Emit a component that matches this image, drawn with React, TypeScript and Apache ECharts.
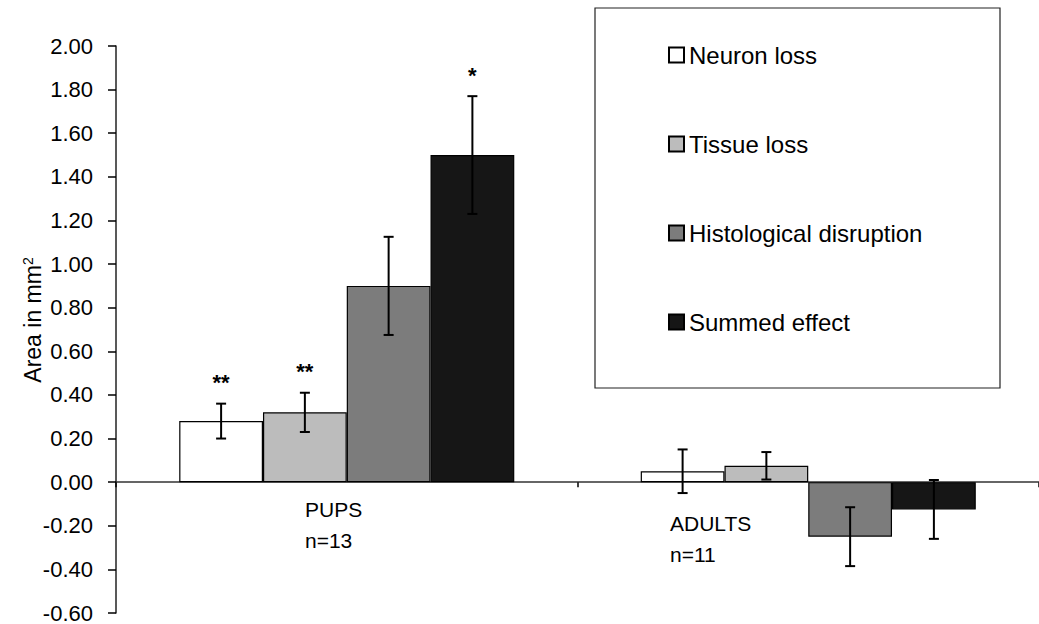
import React, { useEffect, useRef } from "react";
import * as echarts from "echarts";

const categories = ["PUPS", "ADULTS"];
const groupNotes = ["n=13", "n=11"];
const seriesNames = ["Neuron loss", "Tissue loss", "Histological disruption", "Summed effect"];
const neuronLoss = [0.28, 0.05];
const neuronErr = [0.08, 0.1];
const tissueLoss = [0.32, 0.075];
const tissueErr = [0.09, 0.063];
const histoDisruption = [0.9, -0.25];
const histoErr = [0.225, 0.135];
const summedEffect = [1.5, -0.125];
const summedErr = [0.27, 0.135];
const significance = [
  ["**", ""],
  ["**", ""],
  ["", ""],
  ["*", ""],
];
const yTicks = { min: -0.6, max: 2.0, interval: 0.2 };

const values = [neuronLoss, tissueLoss, histoDisruption, summedEffect];
const errors = [neuronErr, tissueErr, histoErr, summedErr];
const fills = ["#ffffff", "#bcbcbc", "#7c7c7c", "#161616"];
const CAT_GAP = 0.274;

export default function App() {
  const ref = useRef<HTMLDivElement>(null);
  useEffect(() => {
    if (!ref.current) return;
    const chart = echarts.init(ref.current, null, { renderer: "svg" });
    const font = "Arial, 'Liberation Sans', sans-serif";

    const errData: number[][] = [];
    const errSig: string[] = [];
    values.forEach((vals, si) => {
      vals.forEach((v, ci) => {
        errData.push([ci, v, errors[si][ci], si]);
        errSig.push(significance[si][ci]);
      });
    });

    const barSeries = values.map((vals, si) => ({
      name: seriesNames[si],
      type: "bar",
      data: vals,
      barGap: "0%",
      barCategoryGap: CAT_GAP * 100 + "%",
      itemStyle: { color: fills[si], borderColor: "#000", borderWidth: 1.2 },
    }));

    chart.setOption({
      animation: false,
      grid: { left: 116, right: -5, top: 46, bottom: 10, containLabel: false },
      legend: {
        orient: "vertical",
        left: 663,
        top: 38,
        icon: "rect",
        itemWidth: 15,
        itemHeight: 15,
        itemGap: 65,
        data: seriesNames,
        textStyle: { fontFamily: font, fontSize: 24, color: "#000", padding: [0, 0, 0, 0] },
      },
      xAxis: {
        type: "category",
        data: categories,
        axisLabel: { show: false },
        axisLine: { onZero: true, lineStyle: { color: "#333", width: 1.5 } },
        axisTick: { show: true, length: 5, lineStyle: { color: "#000", width: 1.5 } },
        splitLine: { show: false },
      },
      yAxis: {
        type: "value",
        min: yTicks.min,
        max: yTicks.max,
        interval: yTicks.interval,
        axisLine: { show: true, onZero: false, lineStyle: { color: "#222", width: 1.5 } },
        axisTick: { show: true, length: 8, lineStyle: { color: "#000", width: 1.5 } },
        axisLabel: {
          fontFamily: font,
          fontSize: 22,
          color: "#000",
          margin: 23,
          formatter: (v: number) => v.toFixed(2),
        },
        splitLine: { show: false },
      },
      series: [
        ...barSeries,
        {
          type: "custom",
          name: "errors",
          data: errData,
          z: 10,
          renderItem: (params: any, api: any) => {
            const ci = api.value(0);
            const v = api.value(1);
            const e = api.value(2);
            const si = api.value(3);
            const band = api.size([1, 0])[0];
            const bw = (band * (1 - CAT_GAP)) / 4;
            const cx = api.coord([ci, 0])[0] + (si - 1.5) * bw;
            const yTop = api.coord([ci, v + e])[1];
            const yBot = api.coord([ci, v - e])[1];
            const cap = 5;
            const st = { stroke: "#000", lineWidth: 2 };
            const children: any[] = [
              { type: "line", shape: { x1: cx, y1: yTop, x2: cx, y2: yBot }, style: st },
              { type: "line", shape: { x1: cx - cap, y1: yTop, x2: cx + cap, y2: yTop }, style: st },
              { type: "line", shape: { x1: cx - cap, y1: yBot, x2: cx + cap, y2: yBot }, style: st },
            ];
            const sig = errSig[params.dataIndex];
            if (sig) {
              children.push({
                type: "text",
                style: {
                  text: sig,
                  x: cx,
                  y: yTop - 10,
                  align: "center",
                  verticalAlign: "bottom",
                  fontFamily: font,
                  fontSize: 22,
                  fontWeight: "bold",
                  fill: "#000",
                },
              });
            }
            return { type: "group", children };
          },
        },
      ],
      graphic: [
        {
          type: "rect",
          shape: { x: 595, y: 8, width: 405, height: 380 },
          style: { fill: "none", stroke: "#222", lineWidth: 1.2 },
          z: -1,
        },
        {
          type: "text",
          x: 33,
          y: 320,
          rotation: Math.PI / 2,
          style: {
            text: "Area in mm{sup|2}",
            fontFamily: font,
            fontSize: 23,
            fill: "#000",
            align: "center",
            verticalAlign: "middle",
            rich: { sup: { fontFamily: font, fontSize: 14, fill: "#000", verticalAlign: "top", padding: [0, 0, 10, 0] } },
          },
        },
        {
          type: "text",
          x: 305,
          y: 494,
          style: { text: categories[0] + "\n" + groupNotes[0], fontFamily: font, fontSize: 21, lineHeight: 31, fill: "#000" },
        },
        {
          type: "text",
          x: 670,
          y: 508,
          style: { text: categories[1] + "\n" + groupNotes[1], fontFamily: font, fontSize: 21, lineHeight: 31, fill: "#000" },
        },
      ],
    });
    return () => chart.dispose();
  }, []);
  return <div ref={ref} style={{ width: 1039, height: 624, position: "absolute", left: 0, top: 0 }} />;
}
